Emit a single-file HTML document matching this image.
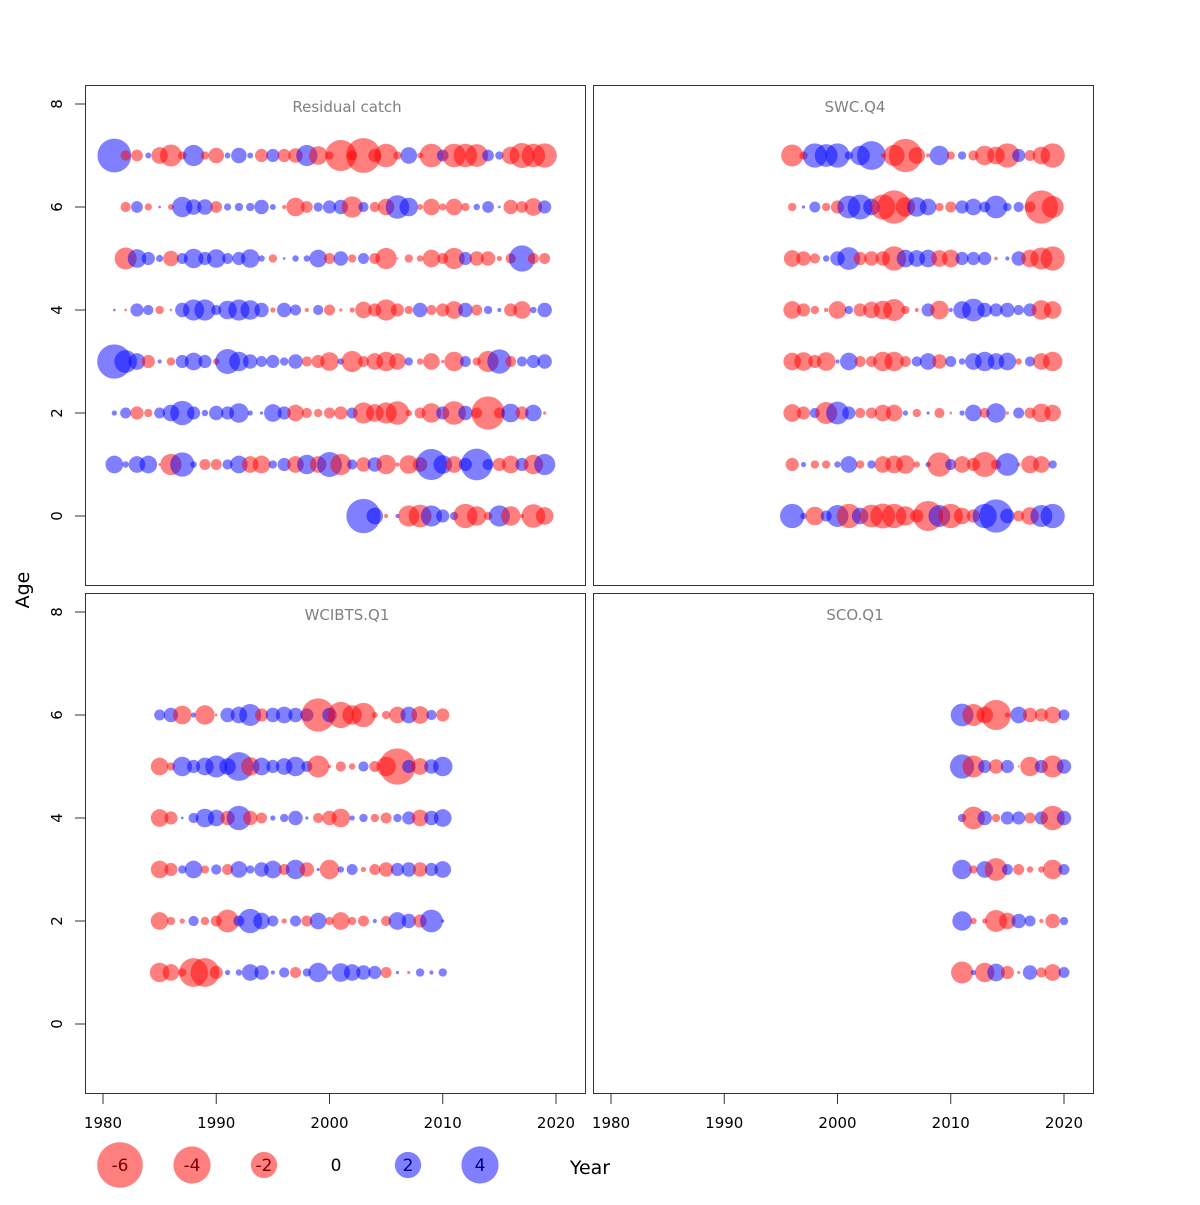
<!DOCTYPE html>
<html><head><meta charset="utf-8"><style>
body{margin:0;background:#fff;}
svg text{font-family:"DejaVu Sans","Liberation Sans",sans-serif;}
</style></head><body>
<svg id="chart" width="1200" height="1200" viewBox="0 0 1200 1200" xmlns="http://www.w3.org/2000/svg">
<rect width="1200" height="1200" fill="#fff"/>
<g id="frames"></g>
<g id="bubbles"></g>
<g id="axes"></g>
<g id="legend"></g>
<text x="590" y="1174" font-size="19" text-anchor="middle">Year</text>
<text transform="translate(29,590) rotate(-90)" font-size="19" text-anchor="middle">Age</text>
</svg>
<script>
// ---- data ----
const rcYears = [1981,1982,1983,1984,1985,1986,1987,1988,1989,1990,1991,1992,1993,1994,1995,1996,1997,1998,1999,2000,2001,2002,2003,2004,2005,2006,2007,2008,2009,2010,2011,2012,2013,2014,2015,2016,2017,2018,2019];
const rcAge7 = [3.3,-0.3,-0.4,0.1,-0.8,-1.4,-0.2,1.3,-0.2,-0.7,0.1,0.7,0.1,-0.5,0.5,-0.5,-0.6,1.3,-1.0,-0.2,-2.8,-0.3,-3.5,-0.5,-1.6,-0.2,0.8,-0.1,-1.6,0.4,-1.6,-1.6,-1.5,0.4,0.2,-0.9,-1.8,-1.6,-1.7];
const rcAge6 = [null,-0.3,0.4,-0.15,0.02,-0.1,1.2,0.7,0.7,-0.4,0.15,0.2,0.2,0.6,0.1,-0.05,-1.0,-0.4,0.25,0.5,0.6,-1.3,0.3,-0.3,-0.8,1.6,1.0,-0.1,-0.8,-0.15,-0.8,-0.2,0.12,0.4,0.02,-0.6,-0.4,-0.9,0.5];
const rcAge5 = [null,-1.4,1.0,0.5,0.15,-0.7,0.35,1.1,0.5,1.0,0.35,0.5,1.0,0.12,-0.2,0.02,0.12,0.12,0.9,-0.35,0.6,-0.2,0.35,-0.35,-1.3,-0.01,-0.2,-0.12,-0.9,-0.35,-1.3,0.5,-0.6,-0.6,-0.08,-0.3,2.0,-0.35,-0.35];
const rcAge4 = [0.02,-0.02,0.5,0.3,-0.2,-0.02,0.6,1.3,1.3,0.3,1.0,1.3,1.1,0.6,-0.08,0.6,0.35,-0.05,0.3,-0.35,-0.03,-0.08,-0.8,-0.5,-1.3,-0.5,-0.2,0.6,-0.3,-0.5,-0.9,0.6,-0.35,0.2,0.05,-0.5,-0.9,0.12,0.6];
const rcAge3 = [3.4,1.5,0.8,-0.5,0.05,-0.2,0.5,0.9,0.5,-0.12,1.8,1.1,0.6,0.35,0.5,0.2,0.6,-0.3,-0.5,-1.0,0.12,-1.3,-0.35,-0.8,-1.1,-0.8,0.2,-0.12,-0.8,-0.03,-1.1,0.35,-0.2,-1.3,1.7,-0.35,0.3,0.5,0.6];
const rcAge2 = [0.08,0.35,-0.5,-0.2,0.35,0.8,1.7,0.5,0.12,0.6,0.5,1.1,0.08,0.03,0.9,0.5,-0.8,-0.3,-0.2,-0.35,-0.5,0.35,-1.3,-0.9,-1.3,-1.6,-0.12,-0.35,-1.1,0.5,-1.6,0.6,-0.35,-3.2,-0.35,1.0,-0.5,0.8,-0.03];
const rcAge1 = [0.9,0.12,0.8,0.9,-0.02,-1.3,1.7,0.12,-0.35,-0.35,0.3,0.9,-0.8,-0.9,0.2,0.5,-0.8,1.1,-0.8,1.8,-1.3,0.3,-0.6,0.6,-1.1,-0.05,-1.0,-0.6,2.8,1.0,-0.8,0.5,2.9,0.35,-0.5,-0.9,0.5,-1.1,1.3];
const rcAge0 = [null,null,null,null,null,null,null,null,null,null,null,null,null,null,null,null,null,null,null,null,null,null,3.4,0.8,-0.05,0.05,-1.3,-1.5,1.3,0.5,0.2,-1.7,-1.1,-0.2,1.3,-1.1,-0.05,-1.6,-0.9];

const swYears = [1996,1997,1998,1999,2000,2001,2002,2003,2004,2005,2006,2007,2008,2009,2010,2011,2012,2013,2014,2015,2016,2017,2018,2019];
const swAge7 = [-1.4,-0.2,1.7,1.5,1.7,0.2,1.1,2.4,-0.05,-1.3,-3.2,-0.8,-0.05,1.1,-0.2,0.2,-0.3,-1.1,-0.9,-1.7,0.5,-0.35,-0.9,-1.7];
const swAge6 = [-0.2,0.03,0.35,-0.2,-0.5,1.5,1.8,0.8,-1.8,-3.2,-1.1,1.1,0.8,-0.2,-0.35,0.5,0.8,0.35,1.5,0.2,0.3,-0.35,-3.2,-1.4];
const swAge5 = [-0.8,-0.6,-0.3,0.12,0.6,1.5,-0.5,-0.6,-0.6,-1.7,0.9,0.8,0.9,-0.8,-0.9,0.5,0.5,0.5,-0.04,0.05,0.6,-0.9,-1.4,-1.7];
const swAge4 = [-0.9,-0.5,-0.2,-0.06,-0.9,0.2,-0.5,-0.8,-1.0,-1.4,-0.2,-0.05,0.5,-1.0,0.05,0.9,1.5,0.6,0.5,0.6,0.3,0.5,-1.1,-0.9];
const swAge3 = [-0.9,-1.0,-0.5,-1.0,0.05,0.9,-0.35,-0.35,-1.1,-1.1,-0.35,0.3,0.8,-0.6,0.35,0.12,0.8,1.1,0.8,0.9,-0.12,0.3,-0.8,-1.1];
const swAge2 = [-0.9,-0.5,0.3,-1.4,1.5,0.5,-0.3,-0.35,-0.8,-0.8,0.08,-0.2,0.03,-0.3,-0.02,0.08,0.8,-0.3,1.1,-0.03,0.35,-0.35,-1.0,-0.8];
const swAge1 = [-0.5,0.08,-0.2,-0.2,0.12,0.8,-0.2,0.2,-0.8,-0.9,-1.0,-0.12,0.08,-1.7,0.35,-0.8,-0.5,-1.8,-0.3,1.5,-0.04,-0.9,-0.8,0.2];
const swAge0 = [1.7,0.12,-1.0,0.35,1.4,-1.7,0.8,-1.5,-1.8,-1.7,-1.1,-0.5,-2.6,1.4,-1.7,-0.8,-0.5,1.7,3.2,0.6,-0.35,-0.9,1.4,1.7];

const wcYears = [1985,1986,1987,1988,1989,1990,1991,1992,1993,1994,1995,1996,1997,1998,1999,2000,2001,2002,2003,2004,2005,2006,2007,2008,2009,2010];
const wcAge6 = [0.35,0.6,-1.0,0.08,-1.1,-0.02,0.6,0.8,1.4,-0.5,0.6,0.8,0.6,0.5,-3.2,0.6,-2.0,-1.1,-1.7,-0.1,-0.2,-0.8,0.8,-0.9,0.3,-0.5];
const wcAge5 = [-0.9,-0.2,1.1,0.5,0.9,1.4,0.8,2.4,-1.0,0.9,0.5,0.8,1.1,0.35,-1.4,-0.03,-0.3,-0.12,0.3,-0.35,-1.1,-3.8,0.5,-0.8,0.6,1.1];
const wcAge4 = [-0.9,-0.5,0.02,0.3,1.0,0.8,-0.6,1.7,-0.6,-0.35,0.08,0.2,0.6,0.03,-0.3,-0.6,-1.0,0.08,0.2,-0.2,-0.35,0.2,0.5,-0.8,0.6,0.9];
const wcAge3 = [-0.9,-0.5,0.2,0.9,-0.2,0.3,-0.35,0.8,0.2,0.6,0.9,-0.35,1.1,-0.6,0.03,-1.1,0.12,0.35,-0.08,-0.35,-0.6,0.5,0.6,-0.6,0.5,0.8];
const wcAge2 = [-0.9,-0.2,-0.08,0.3,-0.2,-0.35,-1.5,0.35,1.7,0.8,0.35,-0.08,0.35,-0.35,0.8,-0.2,-0.9,-0.2,-0.35,0.05,-0.3,0.9,0.6,-0.5,1.5,0.03];
const wcAge1 = [-1.1,-0.8,-0.2,-2.4,-2.4,-0.5,0.08,0.12,0.8,0.6,0.05,0.3,-0.35,0.2,1.1,0.05,1.0,0.8,0.6,0.5,-0.35,0.03,-0.03,0.2,0.05,0.2];

const scYears = [2011,2012,2013,2014,2015,2016,2017,2018,2019,2020];
const scAge6 = [1.5,-1.4,-0.8,-2.6,-0.08,0.8,-0.6,-0.5,-0.8,0.35];
const scAge5 = [1.7,-1.4,0.5,-0.6,0.5,-0.01,-1.1,0.5,-1.4,0.6];
const scAge4 = [0.2,-1.5,0.6,-0.2,0.5,0.5,-0.35,0.5,-1.7,0.6];
const scAge3 = [1.1,-0.2,0.8,-1.5,0.35,-0.35,-0.12,-0.12,-1.1,0.35];
const scAge2 = [1.1,-0.12,-0.08,-1.4,-0.8,0.6,0.35,-0.05,-0.6,0.2];
const scAge1 = [-1.4,0.08,-1.1,0.9,-0.5,-0.03,0.6,-0.3,-0.8,0.35];

const legendValues = [-6,-4,-2,0,2,4];
const xTickLabels = [1980,1990,2000,2010,2020];
const yTickLabels = [0,2,4,6,8];

// ---- layout ----
const NS = "http://www.w3.org/2000/svg";
function mk(tag, attrs, parent){const e=document.createElementNS(NS,tag);for(const k in attrs)e.setAttribute(k,attrs[k]);parent.appendChild(e);return e;}
const panels = [
  {title:"Residual catch", x0:86, y0:86, years:rcYears, rows:[[7,rcAge7],[6,rcAge6],[5,rcAge5],[4,rcAge4],[3,rcAge3],[2,rcAge2],[1,rcAge1],[0,rcAge0]], yaxis:true, xaxis:false, key:"residual-catch"},
  {title:"SWC.Q4", x0:594, y0:86, years:swYears, rows:[[7,swAge7],[6,swAge6],[5,swAge5],[4,swAge4],[3,swAge3],[2,swAge2],[1,swAge1],[0,swAge0]], yaxis:false, xaxis:false, key:"swc-q4"},
  {title:"WCIBTS.Q1", x0:86, y0:594, years:wcYears, rows:[[6,wcAge6],[5,wcAge5],[4,wcAge4],[3,wcAge3],[2,wcAge2],[1,wcAge1]], yaxis:true, xaxis:true, key:"wcibts-q1"},
  {title:"SCO.Q1", x0:594, y0:594, years:scYears, rows:[[6,scAge6],[5,scAge5],[4,scAge4],[3,scAge3],[2,scAge2],[1,scAge1]], yaxis:false, xaxis:true, key:"sco-q1"}
];
const xs = (p,yr)=>p.x0+17+(yr-1980)*11.325;
const ys = (p,age)=>p.y0+18+(8-age)*51.5;
const rs = v=>9.3*Math.sqrt(Math.abs(v));
const frames=document.getElementById('frames'), bub=document.getElementById('bubbles'), axes=document.getElementById('axes');

panels.forEach(p=>{
  const f=mk('rect',{x:p.x0-0.5,y:p.y0-0.5,width:500,height:500,fill:'none',stroke:'#333','stroke-width':1},frames);
  
  
  const t=mk('text',{x:p.x0+261,y:p.y0+26,'font-size':15,fill:'#808080','text-anchor':'middle'},frames);
  t.textContent=p.title;
  
  
  p.years.forEach((yr,i)=>{
    p.rows.forEach(([age,vals])=>{
      const v=vals[i];
      if(v===null||v===undefined) return;
      const c=mk('circle',{cx:xs(p,yr),cy:ys(p,age),r:Math.max(rs(v),1),fill:v<0?'rgba(255,0,0,0.5)':'rgba(0,0,255,0.5)'},bub);
      
      
    });
  });
  if(p.yaxis){
    yTickLabels.forEach(a=>{
      const tk=mk('line',{x1:p.x0-11,x2:p.x0-1,y1:ys(p,a),y2:ys(p,a),stroke:'#333'},axes);
      
      
      const tl=mk('text',{transform:`translate(${p.x0-24},${ys(p,a)}) rotate(-90)`,'font-size':15,'text-anchor':'middle'},axes);
      tl.textContent=a;
      
      
    });
  }
  if(p.xaxis){
    const yb=p.y0+500;
    xTickLabels.forEach(y=>{
      const tk=mk('line',{x1:xs(p,y),x2:xs(p,y),y1:yb,y2:yb+10,stroke:'#333'},axes);
      
      
      const tl=mk('text',{x:xs(p,y),y:yb+34,'font-size':15,'text-anchor':'middle'},axes);
      tl.textContent=y;
      
      
    });
  }
});
const lg=document.getElementById('legend');
legendValues.forEach((v,i)=>{
  const cx=120+i*72, cy=1165;
  if(v!==0){
    const c=mk('circle',{cx:cx,cy:cy,r:rs(v),fill:v<0?'rgba(255,0,0,0.5)':'rgba(0,0,255,0.5)'},lg);
    
    
  }
  const t=mk('text',{x:cx,y:cy+6,'font-size':17,'text-anchor':'middle',fill:v<0?'#7a0000':(v>0?'#00007a':'#000')},lg);
  t.textContent=v;
  
  
});
</script>
</body></html>
